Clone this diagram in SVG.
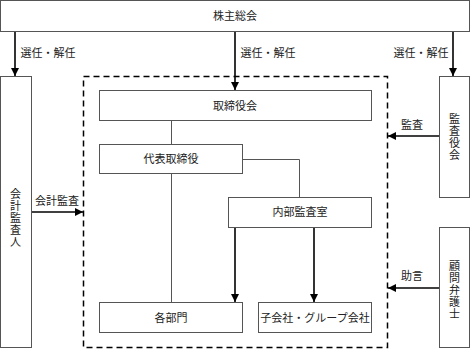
<svg xmlns="http://www.w3.org/2000/svg" width="470" height="349" viewBox="0 0 470 349">
<style>
.b{fill:#fff;stroke:#555;stroke-width:1}
.t{font-family:"Liberation Serif","Noto Sans CJK JP",serif;font-size:11px;fill:#222;text-anchor:middle;dominant-baseline:central}
.a{stroke:#000;stroke-width:1.6;fill:none}
.l{stroke:#555;stroke-width:1;fill:none}
</style>
<defs>
<marker id="ah" viewBox="0 0 8 8" refX="8" refY="4" markerWidth="8" markerHeight="8" markerUnits="userSpaceOnUse" orient="auto">
<path d="M0,0L8,4L0,8z" fill="#000"/>
</marker>
</defs>
<rect x="83.5" y="76.5" width="304" height="271" fill="none" stroke="#000" stroke-width="1.5" stroke-dasharray="6,4"/>
<g id="connectors">
<path class="a" d="M15,31V76" marker-end="url(#ah)"/>
<path class="a" d="M235,31V90" marker-end="url(#ah)"/>
<path class="a" d="M453,31V76" marker-end="url(#ah)"/>
<path class="a" d="M439,136H388" marker-end="url(#ah)"/>
<path class="a" d="M31,212H83" marker-end="url(#ah)"/>
<path class="a" d="M439,288H388" marker-end="url(#ah)"/>
<path class="l" d="M171.5,121V144"/>
<path class="l" d="M242,159.5H299.5V197"/>
<path class="l" d="M171.5,174V302"/>
<path class="a" d="M235,227V302" marker-end="url(#ah)"/>
<path class="a" d="M314,227V302" marker-end="url(#ah)"/>
<text class="t" x="48" y="53">選任・解任</text>
<text class="t" x="268" y="53">選任・解任</text>
<text class="t" x="421" y="53">選任・解任</text>
<text class="t" x="412" y="125">監査</text>
<text class="t" x="57" y="201">会計監査</text>
<text class="t" x="412" y="276">助言</text>
</g>
<g id="n1"><rect class="b" x="0.5" y="0.5" width="469" height="31"/><text class="t" x="235" y="16">株主総会</text></g>
<g id="n2"><rect class="b" x="0.5" y="76.5" width="31" height="271"/>
<text class="t" x="15.5" y="194">会</text><text class="t" x="15.5" y="206">計</text><text class="t" x="15.5" y="218">監</text><text class="t" x="15.5" y="230">査</text><text class="t" x="15.5" y="242">人</text></g>
<g id="n3"><rect class="b" x="439.5" y="76.5" width="30" height="121"/>
<text class="t" x="454.5" y="119">監</text><text class="t" x="454.5" y="131">査</text><text class="t" x="454.5" y="143">役</text><text class="t" x="454.5" y="155">会</text></g>
<g id="n4"><rect class="b" x="439.5" y="227.5" width="30" height="120"/>
<text class="t" x="454.5" y="266">顧</text><text class="t" x="454.5" y="278">問</text><text class="t" x="454.5" y="290">弁</text><text class="t" x="454.5" y="302">護</text><text class="t" x="454.5" y="314">士</text></g>
<g id="n5"><rect class="b" x="99.5" y="90.5" width="272" height="30"/><text class="t" x="235" y="106">取締役会</text></g>
<g id="n6"><rect class="b" x="99.5" y="144.5" width="143" height="29"/><text class="t" x="171" y="159">代表取締役</text></g>
<g id="n7"><rect class="b" x="228.5" y="197.5" width="143" height="30"/><text class="t" x="300" y="212">内部監査室</text></g>
<g id="n8"><rect class="b" x="99.5" y="302.5" width="143" height="30"/><text class="t" x="171" y="318">各部門</text></g>
<g id="n9"><rect class="b" x="258.5" y="302.5" width="113" height="30"/><text class="t" x="315" y="318">子会社・グループ会社</text></g>
</svg>
